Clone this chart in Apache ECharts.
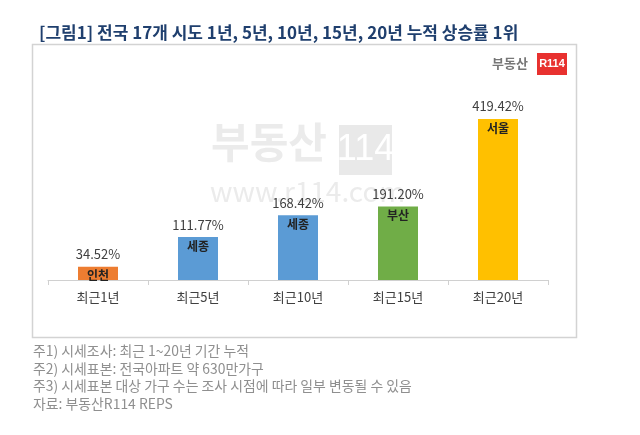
<!DOCTYPE html>
<html><head><meta charset="utf-8">
<script src="https://cdn.jsdelivr.net/npm/echarts@6/dist/echarts.min.js"></script>
<style>html,body{margin:0;padding:0;background:#fff}#c{width:640px;height:435px}</style>
</head><body><div id="c"></div>
<script>
const categories = ['최근1년','최근5년','최근10년','최근15년','최근20년'];
const values = [34.52, 111.77, 168.42, 191.20, 419.42];
const regions = ['인천','세종','세종','부산','서울'];
const colors = ['#ED7D31','#5B9BD5','#5B9BD5','#70AD47','#FFC000'];
const notes = ['주1) 시세조사: 최근 1~20년 기간 누적','주2) 시세표본: 전국아파트 약 630만가구','주3) 시세표본 대상 가구 수는 조사 시점에 따라 일부 변동될 수 있음','자료: 부동산R114 REPS'];
const FONT = '"Noto Sans CJK KR","Noto Sans",sans-serif';
const chart = echarts.init(document.getElementById('c'));
chart.setOption({
  animation:false,
  title:{text:'[그림1] 전국 17개 시도 1년, 5년, 10년, 15년, 20년 누적 상승률 1위',left:34,top:19,
    textStyle:{fontFamily:FONT,fontSize:17,fontWeight:'bold',color:'#1F3F6E'}},
  graphic:[
    {type:'rect',z:-10,shape:{x:32.5,y:44.5,width:544,height:293},style:{fill:'#fff',stroke:'#d3d3d3',lineWidth:1.5}},
    {type:'text',z:-5,style:{x:211,y:121,text:'부동산',fontFamily:FONT,fontSize:42,fontWeight:'bold',fill:'#ebebeb'}},
    {type:'rect',z:-5,shape:{x:339,y:125,width:53,height:50},style:{fill:'#e9e9e9'}},
    {type:'text',z:-4,style:{x:365.5,y:150,text:'114',align:'center',verticalAlign:'middle',fontFamily:'"Liberation Sans",sans-serif',fontSize:36,fill:'#fff'}},
    {type:'text',z:-5,style:{x:210,y:177,text:'www.r114.com',fontFamily:FONT,fontSize:28,fill:'#ebebeb'}},
    {type:'text',style:{x:492,y:63,text:'부동산',verticalAlign:'middle',fontFamily:FONT,fontSize:13,fontWeight:'bold',fill:'#777'}},
    {type:'rect',shape:{x:537,y:53,width:30,height:22},style:{fill:'#E8312F'}},
    {type:'text',style:{x:552,y:64,text:'R114',align:'center',verticalAlign:'middle',fontFamily:'"Liberation Sans",sans-serif',fontSize:11,fontWeight:'bold',fill:'#fff'}}
  ].concat(notes.map((t,i)=>({type:'text',style:{x:33,y:351+i*17.5,text:t,verticalAlign:'middle',fontFamily:FONT,fontSize:13.9,fill:'#8f8f8f'}}))),
  grid:{left:48,right:92,top:80,bottom:155,containLabel:false},
  xAxis:{type:'category',data:categories,
    axisLine:{lineStyle:{color:'#d0d0d0'}},
    axisTick:{show:true,length:5,lineStyle:{color:'#d0d0d0'}},
    axisLabel:{fontFamily:FONT,fontSize:13,color:'#404040',margin:11}},
  yAxis:{type:'value',min:0,max:521,show:false,splitLine:{show:false}},
  series:[
    {type:'bar',barWidth:40,
     data:values.map((v,i)=>({value:v,itemStyle:{color:colors[i]}})),
     label:{show:true,position:'top',distance:6,formatter:p=>p.value.toFixed(2)+'%',fontFamily:FONT,fontSize:13,color:'#404040'}},
    {type:'bar',barWidth:40,barGap:'-100%',z:5,
     data:values.map((v,i)=>({value:v,itemStyle:{color:'transparent'}})),
     label:{show:true,position:'insideTop',distance:3,formatter:p=>regions[p.dataIndex],fontFamily:FONT,fontSize:12,fontWeight:'bold',color:'#222'}}
  ]
});
</script></body></html>
